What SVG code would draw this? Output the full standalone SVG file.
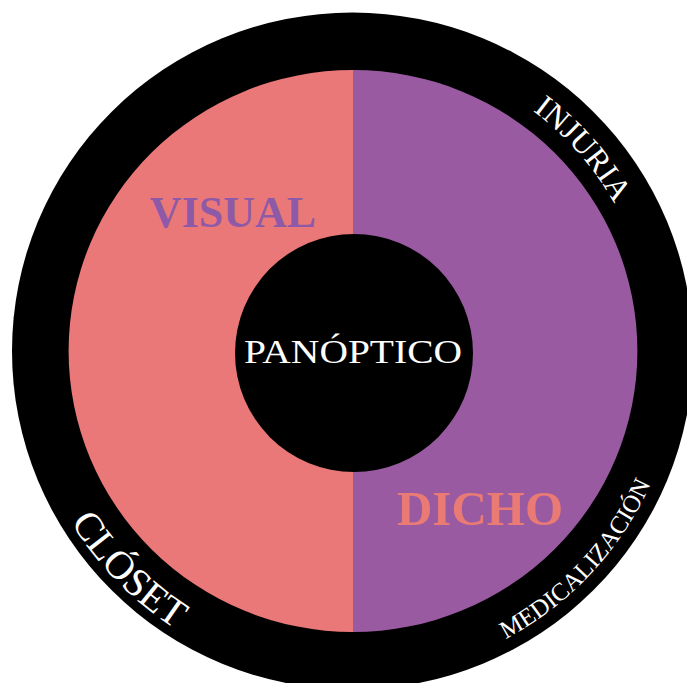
<svg xmlns="http://www.w3.org/2000/svg" width="687" height="683" viewBox="0 0 687 683">
<style>
.serif{font-family:"Liberation Serif","Times New Roman",serif}
.ring{fill:#ffffff;font-family:"Liberation Serif","Times New Roman",serif}
</style>
<defs>
<path id="topArc" d="M 53 351 A 300 300 0 0 1 653 351"/>
<path id="botArcL" d="M 23 351 A 330 330 0 0 0 683 351"/>
<path id="botArcR" d="M 27 351 A 326 326 0 0 0 679 351"/>
</defs>
<rect width="687" height="683" fill="#ffffff"/>
<g id="outer-ring">
<ellipse cx="352.5" cy="351" rx="340.5" ry="338.5" fill="#000000"/>
</g>
<g id="visual-half">
<path d="M 353 70 A 284.5 281 0 0 0 353 632 Z" fill="#EB7878"/>
</g>
<g id="dicho-half">
<path d="M 353 70 A 284.5 281 0 0 1 353 632 Z" fill="#9A5AA2"/>
</g>
<g id="panoptico">
<circle cx="354" cy="353" r="119" fill="#000000"/>
<text class="serif" x="353" y="363" font-size="34" fill="#ffffff" text-anchor="middle" textLength="218" lengthAdjust="spacingAndGlyphs">PANÓPTICO</text>
</g>
<g id="visual-label">
<text class="serif" x="233" y="227" font-size="44" font-weight="bold" fill="#8E5AA8" text-anchor="middle">VISUAL</text>
</g>
<g id="dicho-label">
<text class="serif" x="480" y="525" font-size="49" font-weight="bold" fill="#E97B74" text-anchor="middle">DICHO</text>
</g>
<g id="injuria">
<text class="ring" font-size="32"><textPath href="#topArc" startOffset="726" text-anchor="middle">INJURIA</textPath></text>
</g>
<g id="closet">
<text class="ring" font-size="40"><textPath href="#botArcL" startOffset="255" text-anchor="middle">CLÓSET</textPath></text>
</g>
<g id="medicalizacion">
<text class="ring" font-size="25"><textPath href="#botArcR" startOffset="779" text-anchor="middle">MEDICALIZACIÓN</textPath></text>
</g>
<g id="connectors"/>
</svg>
